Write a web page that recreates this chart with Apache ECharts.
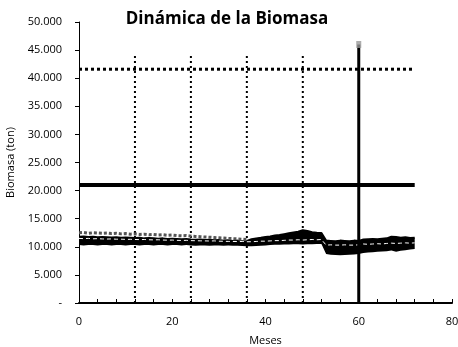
<!DOCTYPE html>
<html>
<head>
<meta charset="utf-8">
<script src="https://cdn.jsdelivr.net/npm/echarts@6/dist/echarts.min.js"></script>
<style>
  html, body { margin: 0; padding: 0; background: #fff; }
  #chart { width: 458px; height: 347px; }
</style>
</head>
<body>
<div id="chart"></div>
<script>
// biomass band per month (index = month 0..72)
const bandHigh = [
  11800, 11850, 11750, 11800, 11700, 11750, 11700, 11650, 11700, 11600, 11650, 11600, 11550,
  11600, 11500, 11550, 11500, 11450, 11500, 11400, 11450, 11400, 11350, 11400, 11300,
  11250, 11300, 11200, 11250, 11150, 11200, 11100, 11150, 11050, 11100, 11000, 11050,
  11350, 11500, 11600, 11750, 11850, 12000, 12100, 12250, 12400, 12550, 12700, 12950,
  12800, 12600, 12500, 12450,
  11100, 11050, 11000, 11100, 11050, 11000, 11100, 11050,
  11300, 11350, 11400, 11350, 11450, 11500, 11800, 11750, 11600, 11700, 11550, 11600
];
const bandLow = [
  10300, 10250, 10300, 10300, 10250, 10300, 10300, 10250, 10300, 10300, 10250, 10300, 10300,
  10250, 10300, 10300, 10250, 10300, 10300, 10250, 10300, 10300, 10250, 10300, 10250,
  10200, 10250, 10250, 10200, 10250, 10250, 10200, 10250, 10200, 10200, 10150, 10100,
  10100, 10150, 10200, 10250, 10300, 10350, 10350, 10400, 10400, 10450, 10450, 10400,
  10450, 10450, 10500, 10500,
  8700, 8600, 8550, 8500, 8550, 8600, 8650, 8700,
  8900, 9000, 9050, 9100, 9150, 9200, 9350, 9100, 9300, 9400, 9500, 9600
];
const topSpeckle = [
  12500, 12550, 12400, 12500, 12450, 12400, 12450, 12350, 12400, 12300, 12350, 12250, 12300,
  12200, 12250, 12150, 12200, 12100, 12150, 12050, 12100, 12000, 11950, 12000, 11900,
  11850, 11800, 11750, 11700, 11650, 11600, 11550, 11500, 11450, 11400, 11350, 11300
];
const meanLine = [
  11500, 11450, 11500, 11420, 11450, 11400, 11380, 11400, 11350, 11360, 11320, 11330, 11300,
  11280, 11300, 11250, 11230, 11250, 11200, 11180, 11200, 11150, 11130, 11150, 11100,
  11080, 11060, 11050, 11030, 11050, 11000, 10980, 10960, 10950, 10930, 10950, 10900,
  10900, 10950, 11000, 11000, 11050, 11100, 11100, 11150, 11200, 11200, 11250, 11200,
  11250, 11300, 11250, 11300,
  10300, 10350, 10300, 10300, 10350, 10300, 10300, 10350,
  10500, 10450, 10500, 10550, 10500, 10600, 10650, 10600, 10650, 10700, 10650, 10700
];

// reference lines
const capacityLevel = 41600;
const targetLevel = 21000;
const lineEndMonth = 72;
const seasonMonths = [12, 24, 36, 48];
const seasonTop = 44500;
const cutMonth = 60;
const cutTop = 46000;

const fmt = v => v === 0 ? '-' : String(v).replace(/\B(?=(\d{3})+(?!\d))/g, '.');
const pairs = arr => arr.map((v, i) => [i, v]);
// value first so that the stack is applied to biomass, not to month
const stackPairs = arr => arr.map((v, i) => [v, i]);
const bandDiff = bandHigh.map((v, i) => v - bandLow[i]);

const FONT = '"Open Sans", "Liberation Sans", sans-serif';

const chart = echarts.init(document.getElementById('chart'));

const seasonSeries = seasonMonths.map(m => ({
  type: 'line',
  data: [[m, 0], [m, seasonTop]],
  symbol: 'none',
  silent: true,
  z: 1,
  lineStyle: { color: '#000', width: 2, type: [2, 3] }
}));

chart.setOption({
  animation: false,
  title: {
    text: 'Dinámica de la Biomasa',
    left: 222,
    textAlign: 'center',
    top: 6,
    textStyle: { fontFamily: FONT, fontSize: 17, fontWeight: 'bold', color: '#000' }
  },
  grid: { left: 79, right: 6, top: 22, bottom: 44, outerBoundsMode: 'none' },
  xAxis: {
    type: 'value',
    min: 0,
    max: 80,
    interval: 4,
    name: 'Meses',
    nameLocation: 'middle',
    nameGap: 32,
    nameTextStyle: { fontFamily: FONT, fontSize: 11, color: '#000' },
    splitLine: { show: false },
    axisLine: { lineStyle: { color: '#000', width: 2 } },
    axisTick: { inside: true, length: 4, lineStyle: { color: '#000' } },
    axisLabel: {
      margin: 13,
      fontFamily: FONT, fontSize: 11, color: '#000',
      formatter: v => v % 20 === 0 ? String(v) : ''
    }
  },
  yAxis: {
    type: 'value',
    min: 0,
    max: 50000,
    interval: 5000,
    name: 'Biomasa (ton)',
    nameLocation: 'middle',
    nameGap: 60,
    nameTextStyle: { fontFamily: FONT, fontSize: 11, color: '#000' },
    splitLine: { show: false },
    axisLine: { show: true, lineStyle: { color: '#000', width: 1 } },
    axisTick: { show: true, length: 4, lineStyle: { color: '#000' } },
    axisLabel: { margin: 17, fontFamily: FONT, fontSize: 11, color: '#000', formatter: fmt }
  },
  series: [
    ...seasonSeries,
    {
      type: 'line',
      data: [[0, capacityLevel], [lineEndMonth, capacityLevel]],
      symbol: 'none',
      z: 2,
      lineStyle: { color: '#000', width: 3, type: [3, 3] }
    },
    {
      type: 'line',
      data: [[0, targetLevel], [lineEndMonth, targetLevel]],
      symbol: 'none',
      z: 2,
      lineStyle: { color: '#000', width: 4 }
    },
    {
      type: 'line',
      dimensions: ['biomasa', 'mes'],
      encode: { x: 'mes', y: 'biomasa' },
      data: stackPairs(bandLow),
      stack: 'band',
      symbol: 'none',
      z: 3,
      lineStyle: { width: 0, opacity: 0 }
    },
    {
      type: 'line',
      dimensions: ['biomasa', 'mes'],
      encode: { x: 'mes', y: 'biomasa' },
      data: stackPairs(bandDiff),
      stack: 'band',
      symbol: 'none',
      z: 3,
      lineStyle: { color: '#000', width: 2 },
      areaStyle: { color: '#000', opacity: 1 }
    },
    {
      type: 'line',
      data: pairs(topSpeckle),
      symbol: 'none',
      z: 4,
      lineStyle: { color: '#555', width: 3, type: [3, 2] }
    },
    {
      type: 'line',
      data: pairs(meanLine),
      symbol: 'none',
      z: 5,
      lineStyle: { color: '#fff', width: 1, type: [4, 3] }
    },
    {
      type: 'line',
      data: [[cutMonth, 0], [cutMonth, cutTop]],
      symbol: 'none',
      z: 6,
      lineStyle: { color: '#000', width: 3 }
    },
    {
      type: 'scatter',
      data: [[cutMonth, cutTop]],
      symbol: 'rect',
      symbolSize: [5, 7],
      z: 6,
      itemStyle: { color: '#999' }
    }
  ]
});

window.addEventListener('resize', () => chart.resize());
</script>
</body>
</html>
